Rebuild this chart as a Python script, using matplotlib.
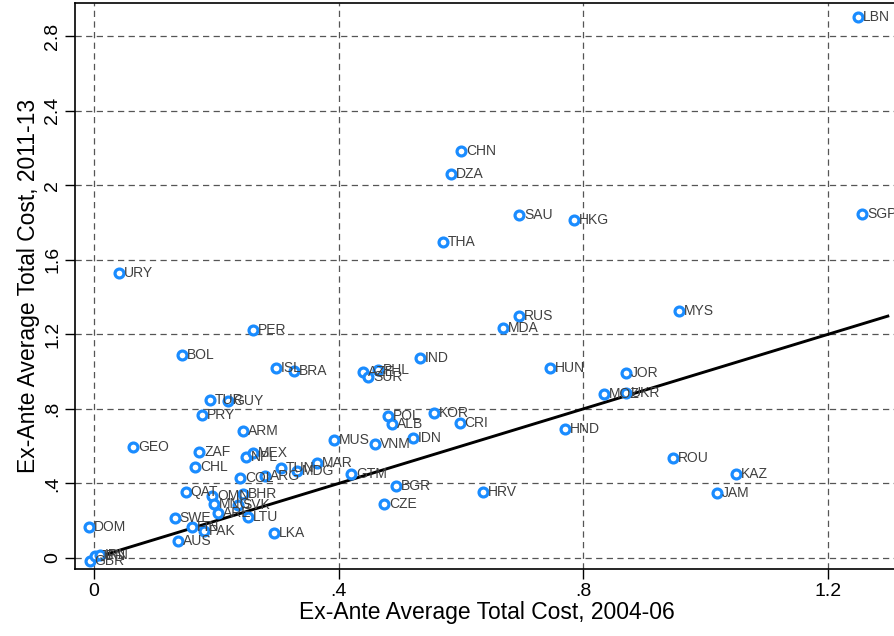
import matplotlib
matplotlib.use("Agg")
import matplotlib.pyplot as plt

plt.rcParams['font.family'] = ['Liberation Sans', 'DejaVu Sans']

# Country codes and the two cost measures
countries = ["LBN", "SGP", "CHN", "DZA", "SAU", "HKG", "THA", "URY", "MYS", "RUS",
             "MDA", "PER", "BOL", "IND", "ISL", "BRA", "HUN", "JOR", "AZE", "PHL",
             "SUR", "MOZ", "UKR", "TUR", "GUY", "PRY", "POL", "ALB", "KOR", "CRI",
             "HND", "ARM", "MUS", "IDN", "VNM", "GEO", "ZAF", "NPL", "MEX", "CHL",
             "TUN", "MDG", "MAR", "COL", "ARG", "GTM", "BGR", "CZE", "HRV", "ROU",
             "KAZ", "JAM", "LKA", "LTU", "QAT", "OMN", "BHR", "MNG", "SVK", "ARE",
             "SWE", "FIN", "PAK", "AUS", "DOM", "GBR", "JPN", "IRN"]
cost_0406 = [1.249, 1.256, 0.600, 0.584, 0.695, 0.785, 0.571, 0.041, 0.956, 0.695,
             0.669, 0.260, 0.144, 0.533, 0.298, 0.327, 0.745, 0.870, 0.440, 0.464,
             0.448, 0.834, 0.870, 0.190, 0.219, 0.177, 0.481, 0.487, 0.556, 0.598,
             0.770, 0.244, 0.392, 0.521, 0.459, 0.064, 0.172, 0.248, 0.260, 0.165,
             0.306, 0.332, 0.365, 0.239, 0.280, 0.420, 0.494, 0.474, 0.636, 0.947,
             1.050, 1.018, 0.294, 0.252, 0.150, 0.193, 0.244, 0.196, 0.235, 0.203,
             0.132, 0.160, 0.180, 0.137, -0.008, -0.007, 0.002, 0.010]
cost_1113 = [2.902, 1.845, 2.183, 2.060, 1.840, 1.813, 1.695, 1.529, 1.325, 1.298,
             1.234, 1.223, 1.089, 1.073, 1.019, 1.003, 1.019, 0.992, 0.998, 1.009,
             0.971, 0.880, 0.885, 0.848, 0.842, 0.767, 0.762, 0.719, 0.778, 0.724,
             0.692, 0.681, 0.633, 0.644, 0.612, 0.596, 0.569, 0.542, 0.563, 0.488,
             0.483, 0.467, 0.510, 0.429, 0.440, 0.451, 0.386, 0.290, 0.354, 0.536,
             0.451, 0.349, 0.134, 0.220, 0.354, 0.333, 0.343, 0.290, 0.284, 0.241,
             0.215, 0.166, 0.145, 0.091, 0.166, -0.016, 0.011, 0.016]

# 45-degree reference line
line_x = [0, 1.3]
line_y = [0, 1.3]

x_ticks = [0, 0.4, 0.8, 1.2]
x_tick_labels = ["0", ".4", ".8", "1.2"]
y_ticks = [0, 0.4, 0.8, 1.2, 1.6, 2.0, 2.4, 2.8]
y_tick_labels = ["0", ".4", ".8", "1.2", "1.6", "2", "2.4", "2.8"]

W, H = 895, 636
fig = plt.figure(figsize=(W / 100, H / 100), dpi=100)
ax = fig.add_axes([75 / W, (H - 569) / H, (898 - 75) / W, (569 - 3) / H])

x0, xs = 94, 611.7
y0, ys = 558, 186.4
ax.set_xlim((75 - x0) / xs, (898 - x0) / xs)
ax.set_ylim((y0 - 569) / ys, (y0 - 3) / ys)

# grid
for gx in x_ticks:
    ax.axvline(gx, color="#555555", lw=0.9, ls=(0, (5, 3.5)), zorder=1)
for gy in y_ticks:
    ax.axhline(gy, color="#555555", lw=0.9, ls=(0, (5, 3.5)), zorder=1)

ax.plot(cost_0406, cost_1113, linestyle="none", marker="o", ms=6.4, mew=2.3,
        mfc="white", mec="#1a8cff", zorder=3)
for name, xv, yv in zip(countries, cost_0406, cost_1113):
    ax.annotate(name, (xv, yv), xytext=(3.5, 0), textcoords="offset points",
                ha="left", va="center", fontsize=10, color="#404040", zorder=4)

ax.plot(line_x, line_y, color="black", lw=2.1, zorder=2, solid_capstyle="butt")

ax.set_xticks(x_ticks)
ax.set_xticklabels(x_tick_labels)
ax.set_yticks(y_ticks)
ax.set_yticklabels(y_tick_labels, rotation=90, va="center")
ax.tick_params(axis="both", direction="out", length=7, width=1, labelsize=14,
               colors="black", pad=3)

for sp in ax.spines.values():
    sp.set_linewidth(1.2)
    sp.set_color("black")

ax.set_xlabel("Ex-Ante Average Total Cost, 2004-06", fontsize=16.5, labelpad=1)
ax.set_ylabel("Ex-Ante Average Total Cost, 2011-13", fontsize=16.5, labelpad=3)

fig.savefig("out.png", dpi=100)
